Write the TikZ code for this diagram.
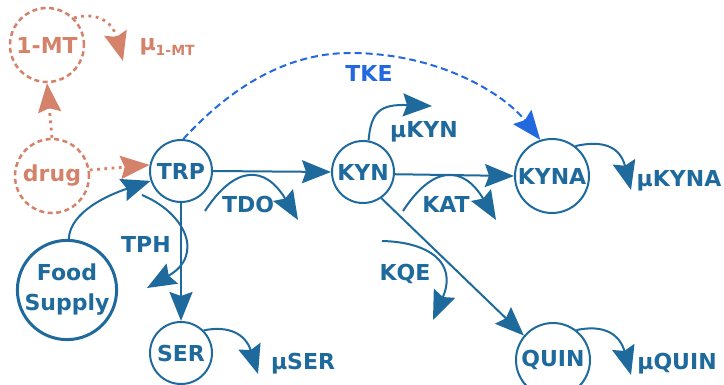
\documentclass[tikz,border=0pt]{standalone}
\usepackage{fontspec}
\setmainfont{DejaVu Sans}
\usetikzlibrary{arrows.meta}
\definecolor{pathblue}{HTML}{1F6A9C}
\definecolor{drugred}{HTML}{D4826A}
\definecolor{tkeblue}{HTML}{2268DE}
\tikzset{
  lbl/.style={font=\fontsize{22}{26}\selectfont\bfseries},
  pool/.style={circle, draw=pathblue, line width=2pt, text=pathblue, inner sep=0pt, lbl},
  drugpool/.style={circle, draw=drugred, line width=2.5pt, dash pattern=on 5pt off 3.5pt,
    text=drugred, inner sep=0pt, lbl},
  headtip/.style={-{Stealth[length=29pt,width=23pt,inset=4pt]}},
  flux/.style={draw=pathblue, line width=2pt, headtip},
  drugflux/.style={draw=drugred, line width=2.8pt, dash pattern=on 2.8pt off 4.5pt, headtip},
  tkeflux/.style={draw=tkeblue, line width=2pt, dash pattern=on 7pt off 4pt, headtip},
  bluelbl/.style={lbl, text=pathblue, anchor=base},
}
\begin{document}
\begin{tikzpicture}[x=1pt, y=-1pt]
\useasboundingbox (0,0) rectangle (724,385);

% metabolite pools
\node[drugpool, minimum size=74pt] (mt) at (47,45) {1-MT};
\node[drugpool, minimum size=74pt] (drug) at (52,176) {drug};
\node[pool, minimum size=62pt] (TRP) at (181,171) {TRP};
\node[pool, minimum size=62pt] (KYN) at (363,172) {KYN};
\node[pool, minimum size=74pt] (KYNA) at (552,176) {KYNA};
\node[pool, minimum size=74pt] (QUIN) at (553,360) {QUIN};
\node[pool, minimum size=62pt] (SER) at (181,353) {SER};
\node[pool, minimum size=94pt, line width=3pt, align=center,
      font=\fontsize{22}{30}\selectfont\bfseries] (food) at (67,290) {Food\\Supply};

% drug fluxes
\draw[drugflux] (drug.north) -- (mt.south);
\draw[drugflux] (drug.9) -- (TRP.169);
\coordinate (mtout) at (123,61);
\draw[drugflux] (mt.45) .. controls (95,12) and (112,20) .. (mtout);
\node[lbl, text=drugred, anchor=base west] (mumt) at (136,51)
  {μ\raisebox{-5pt}{\fontsize{14}{16}\selectfont 1-MT}};

% main pathway
\draw[flux] (food.88) .. controls (70,212) and (108,195) .. (TRP.198);
\draw[flux] (TRP.east) -- (KYN.west);
\draw[flux] (KYN.-4) -- (KYNA.west);
\draw[flux] (TRP.south) -- (SER.north);
\draw[flux] (KYN.-55) -- (QUIN.140);
\draw[tkeflux] (TRP.86) .. controls (212,108) and (270,53) .. (350,53)
  .. controls (440,53) and (505,95) .. (KYNA.108);
\node[lbl, text=tkeblue, anchor=base] (tke) at (369,82) {TKE};

% enzyme arrows
\coordinate (tdoA) at (205,211);
\coordinate (tdoB) at (298,220);
\draw[flux] (tdoA) .. controls (235,165) and (265,165) .. (tdoB);
\node[bluelbl] (tdo) at (248,213) {TDO};

\coordinate (katA) at (403,211);
\coordinate (katB) at (496,220);
\draw[flux] (katA) .. controls (433,165) and (463,165) .. (katB);
\node[bluelbl] (kat) at (446,213) {KAT};

\coordinate (tphA) at (142,195);
\coordinate (tphB) at (147,288);
\draw[flux] (tphA) .. controls (185,213) and (205,255) .. (tphB);
\node[bluelbl] (tph) at (146,253) {TPH};

\coordinate (kqeA) at (382,241);
\coordinate (kqeB) at (433,320);
\draw[flux] (kqeA) .. controls (428,242) and (458,262) .. (kqeB);
\node[bluelbl] (kqe) at (405,281) {KQE};

% degradation
\coordinate (kynout) at (432,106);
\draw[flux] (KYN.80) .. controls (371,112) and (380,104) .. (kynout);
\node[bluelbl] (mukyn) at (424,138) {μKYN};

\coordinate (kynaout) at (631,190);
\draw[flux] (KYNA.52) .. controls (602,140) and (620,146) .. (kynaout);
\node[bluelbl] (mukyna) at (679,187) {μKYNA};

\coordinate (serout) at (258,374);
\draw[flux] (SER.45) .. controls (230,325) and (246,335) .. (serout);
\node[bluelbl] (muser) at (303,370) {μSER};

\coordinate (quinout) at (631,375);
\draw[flux] (QUIN.52) .. controls (605,324) and (620,335) .. (quinout);
\node[bluelbl] (muquin) at (677,370) {μQUIN};
\end{tikzpicture}
\end{document}
